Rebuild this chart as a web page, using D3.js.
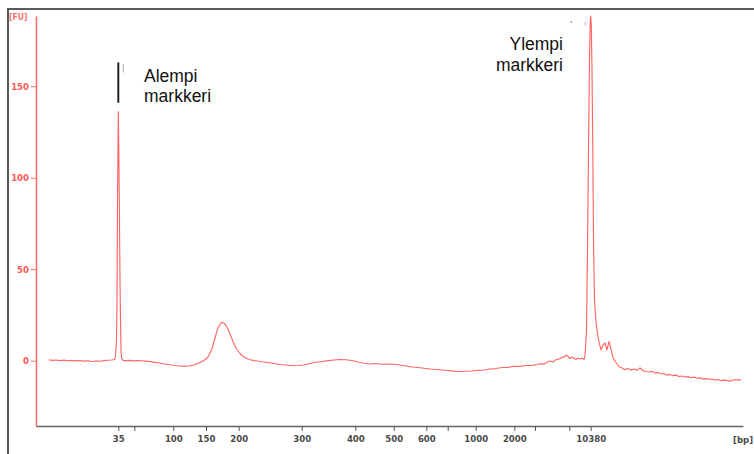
<!DOCTYPE html>
<html>
<head>
<meta charset="utf-8">
<script src="https://cdn.jsdelivr.net/npm/d3@7"></script>
<style>
  html, body { margin: 0; padding: 0; background: #fff; }
  svg { display: block; }
</style>
</head>
<body>
<svg id="chart" width="754" height="454"></svg>
<script>
// Electropherogram: fluorescence (FU) against migration time, x axis labelled with ladder sizes (bp)

// Ladder: sizes in bp and their migration times (s)
const ladderBp    = [35, 50, 100, 150, 200, 300, 400, 500, 600, 700, 1000, 2000, 3000, 7000, 10380];
const ladderTime  = [48.23, 49.83, 53.73, 57.00, 60.27, 66.57, 71.93, 75.77, 79.03, 81.17, 83.97, 87.83, 89.90, 93.33, 95.47];
const ladderLabel = ["35", "", "100", "150", "200", "300", "400", "500", "600", "", "1000", "2000", "", "", "10380"];

// Y ticks
const fuTicks = [0, 50, 100, 150];

// Trace: migration time (s)
const traceTime = [
  41.27, 41.6, 42.0, 42.4, 42.8, 43.2, 43.6, 44.0, 44.4, 44.8, 45.2, 45.6, 46.0, 46.4, 46.8, 47.2, 47.6, 47.85,
  47.95, 48.05, 48.1, 48.15, 48.2, 48.23, 48.28, 48.33, 48.4, 48.45, 48.5, 48.55, 48.7,
  49.0, 49.4, 49.8, 50.2, 50.6, 51.0, 51.4, 51.9, 52.4, 52.9, 53.4, 53.9, 54.4, 54.9, 55.4, 55.9, 56.4,
  56.8, 57.2, 57.6, 57.9, 58.2, 58.45, 58.63, 58.85, 59.1, 59.4, 59.7, 60.0, 60.4, 60.8, 61.2, 61.6,
  62.1, 62.6, 63.2, 63.8, 64.4, 65.0, 65.6, 66.2, 66.8, 67.4, 68.0, 68.6, 69.2, 69.8, 70.4, 71.0, 71.6,
  72.2, 72.8, 73.4, 74.0, 74.6, 75.2, 75.8, 76.4, 77.0, 77.6, 78.2, 78.8, 79.4, 80.0, 80.6, 81.2, 81.8,
  82.4, 83.0, 83.6, 84.2, 84.8, 85.4, 86.0, 86.6, 87.2, 87.8, 88.4, 89.0, 89.6,
  90.2, 90.5, 90.8, 91.1, 91.4, 91.7, 92.0, 92.3, 92.6, 92.9, 93.0, 93.2, 93.4, 93.6, 93.8, 94.0, 94.2,
  94.4, 94.6, 94.8, 94.9,
  95.05, 95.15, 95.25, 95.35, 95.43, 95.47, 95.53, 95.6, 95.68, 95.75, 95.85, 96.0, 96.15, 96.3,
  96.5, 96.7, 96.9, 97.1, 97.3, 97.5, 97.7, 98.0, 98.3, 98.6, 98.9, 99.2, 99.5, 99.8, 100.1, 100.4,
  100.7, 101.0, 101.3, 101.6, 101.9, 102.2, 102.5, 102.8, 103.1, 103.4, 103.7, 104.0, 104.3, 104.6,
  104.9, 105.2, 105.5, 105.8, 106.1, 106.4, 106.7, 107.0, 107.3, 107.6, 107.9, 108.2, 108.5, 108.8,
  109.1, 109.4, 109.7, 110.0, 110.3, 110.5
];

// Trace: fluorescence (FU)
const traceFU = [
  0.49, 0.16, 0.38, 0.05, 0.27, -0.05, 0.16, -0.11, 0.11, -0.27, -0.05, -0.44, -0.16, -0.33, 0.05, 0.22, 0.38, 0.66,
  2.02, 11.3, 33.2, 87.8, 115.2, 136.1, 115.2, 87.8, 44.1, 22.2, 5.8, 1.5, 0.16,
  0.0, 0.16, -0.11, 0.11, -0.05, -0.27, -0.49, -0.93, -1.26, -1.80, -2.24, -2.62, -2.90, -3.01, -2.79, -2.24, -0.98,
  0.11, 2.02, 6.39, 12.4, 17.9, 20.3, 21.0, 20.3, 18.4, 14.6, 10.5, 6.94, 3.93, 2.02, 0.93, 0.27,
  -0.16, -0.60, -0.98, -1.53, -2.08, -2.35, -2.79, -2.62, -2.35, -1.53, -0.87, -0.44, 0.05, 0.38, 0.66, 0.49, 0.11,
  -0.71, -1.42, -1.80, -1.53, -1.97, -1.80, -1.97, -2.35, -2.90, -3.44, -3.72, -4.15, -4.54, -4.81, -5.08, -5.36, -5.74,
  -5.90, -5.79, -5.63, -5.30, -5.08, -4.54, -4.30, -3.72, -3.64, -3.06, -3.10, -2.62, -2.55,
  -2.08, -1.6, -1.9, -0.9, -0.2, -0.7, 0.6, 0.9, 1.8, 2.2, 3.1, 2.4, 1.2, 1.9, 1.5, 0.6, 1.3,
  0.9, 1.4, 0.7, 2.57,
  16.8, 60.5, 115.2, 164.4, 186.2, 188.4, 183.5, 158.9, 115.2, 66.0, 33.2, 21.2, 15.1, 10.2,
  5.85, 8.58, 9.67, 5.85, 10.5, 6.39, 1.48, -0.98, -3.17, -4.0, -4.9, -4.3, -5.2, -4.5, -5.3, -3.9,
  -5.5, -5.9, -6.2, -5.8, -6.8, -6.5, -7.3, -7.0, -7.9, -7.5, -8.2, -7.9, -8.7, -8.4,
  -8.9, -8.7, -9.3, -9.0, -9.6, -9.4, -10.1, -9.8, -10.3, -10.0, -10.6, -10.3, -10.9, -10.6,
  -10.8, -11.2, -10.6, -10.3, -10.6, -10.3
];

// Marker annotations
const markerNames = [["Alempi", "markkeri"], ["Ylempi", "markkeri"]];

const svg = d3.select("#chart");

// Outer frame
svg.append("rect")
  .attr("x", 8).attr("y", 9)
  .attr("width", 800).attr("height", 500)
  .attr("fill", "none")
  .attr("stroke", "#5a5a5a")
  .attr("stroke-width", 2);

const x = d3.scaleLinear().domain([40, 110.7]).range([36, 743]);
const y = d3.scaleLinear().domain([-35.7, 188.4]).range([426, 16]);

const tickFont = "'DejaVu Sans Condensed', 'DejaVu Sans', sans-serif";

// Y axis (red)
const yAxis = svg.append("g")
  .attr("transform", "translate(36,0)")
  .call(d3.axisLeft(y).tickValues(fuTicks).tickSizeInner(5).tickSizeOuter(0).tickPadding(2));
yAxis.select(".domain").attr("stroke", "#ff6b6b").attr("stroke-width", 1.5);
yAxis.selectAll(".tick line").attr("stroke", "#ff6b6b");
yAxis.selectAll(".tick text")
  .attr("fill", "#ff5656")
  .style("font-family", tickFont)
  .style("font-weight", "bold")
  .style("font-size", "9.5px");

svg.append("text")
  .attr("x", 9).attr("y", 20)
  .attr("fill", "#ff7070")
  .style("font-family", tickFont)
  .style("font-weight", "bold")
  .style("font-size", "8.5px")
  .text("[FU]");

// X axis (ladder sizes)
const xAxis = svg.append("g")
  .attr("transform", "translate(0,426)")
  .call(d3.axisBottom(x).tickValues(ladderTime)
    .tickFormat((d, i) => ladderLabel[i])
    .tickSizeInner(5).tickSizeOuter(0).tickPadding(4));
xAxis.select(".domain").attr("stroke", "#666").attr("stroke-width", 1.3);
xAxis.selectAll(".tick line").attr("stroke", "#555");
xAxis.selectAll(".tick text")
  .attr("fill", "#4a4a4a")
  .style("font-family", tickFont)
  .style("font-weight", "bold")
  .style("font-size", "9.5px");

svg.append("text")
  .attr("x", 733).attr("y", 443)
  .attr("fill", "#4a4a4a")
  .style("font-family", tickFont)
  .style("font-weight", "bold")
  .style("font-size", "9.5px")
  .text("[bp]");

// Trace
const pts = traceTime.map((t, i) => [t, traceFU[i]]);
const line = d3.line().x(d => x(d[0])).y(d => y(d[1]));
svg.append("path")
  .datum(pts)
  .attr("d", line)
  .attr("fill", "none")
  .attr("stroke", "#ff4040")
  .attr("stroke-opacity", 0.8)
  .attr("stroke-width", 1.15)
  .attr("stroke-linejoin", "round");

// Marker bars and small ticks near the ladder peaks
svg.append("line")
  .attr("x1", x(ladderTime[0])).attr("x2", x(ladderTime[0]))
  .attr("y1", y(163)).attr("y2", y(141))
  .attr("stroke", "#222").attr("stroke-width", 2);
svg.append("line")
  .attr("x1", x(ladderTime[0]) + 5).attr("x2", x(ladderTime[0]) + 5)
  .attr("y1", y(162)).attr("y2", y(157.5))
  .attr("stroke", "#aaa").attr("stroke-width", 1);
svg.append("line")
  .attr("x1", x(ladderTime[14]) - 5.5).attr("x2", x(ladderTime[14]) - 5.5)
  .attr("y1", y(185)).attr("y2", y(183))
  .attr("stroke", "#bbb").attr("stroke-width", 1);
svg.append("rect")
  .attr("x", x(ladderTime[14]) - 20).attr("y", y(185.5))
  .attr("width", 1.2).attr("height", 1.2)
  .attr("fill", "#444");

// Marker labels
const labelFont = "'Liberation Sans', Arial, sans-serif";
const lower = svg.append("text")
  .attr("x", 144).attr("y", 82)
  .attr("fill", "#111")
  .style("font-family", labelFont)
  .style("font-size", "17.5px");
markerNames[0].forEach((s, i) => lower.append("tspan").attr("x", 144).attr("dy", i ? 20 : 0).text(s));

const upper = svg.append("text")
  .attr("x", 563).attr("y", 50)
  .attr("text-anchor", "end")
  .attr("fill", "#111")
  .style("font-family", labelFont)
  .style("font-size", "17.5px");
markerNames[1].forEach((s, i) => upper.append("tspan").attr("x", 563).attr("dy", i ? 20.5 : 0).text(s));
</script>
</body>
</html>
